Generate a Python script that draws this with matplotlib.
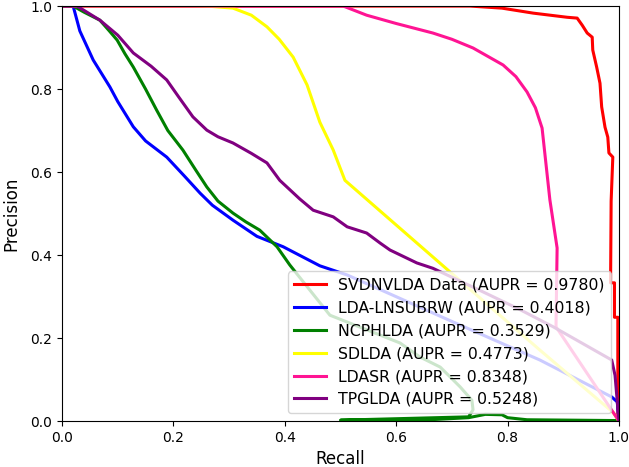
import matplotlib
matplotlib.use('Agg')
import matplotlib.pyplot as plt

# curvas precision-recall
svdnvlda_r = [0.0, 0.733, 0.79, 0.846, 0.907, 0.925, 0.934, 0.943, 0.952, 0.953, 0.96, 0.966,
              0.969, 0.975, 0.98, 0.982, 0.989, 0.986, 0.985, 0.992, 0.992, 0.998, 0.998]
svdnvlda_p = [1.0, 1.0, 0.995, 0.983, 0.973, 0.971, 0.954, 0.935, 0.925, 0.894, 0.853, 0.814,
              0.757, 0.708, 0.684, 0.646, 0.636, 0.53, 0.333, 0.333, 0.25, 0.25, 0.0]

lnsubrw_r = [0.0, 0.02, 0.032, 0.056, 0.086, 0.1, 0.128, 0.15, 0.188, 0.22, 0.248, 0.27,
             0.307, 0.35, 0.397, 0.463, 0.512, 0.601, 0.7, 0.858, 0.987, 0.997, 1.0]
lnsubrw_p = [1.0, 1.0, 0.94, 0.87, 0.805, 0.77, 0.709, 0.675, 0.636, 0.59, 0.549, 0.52,
             0.484, 0.445, 0.42, 0.374, 0.352, 0.299, 0.24, 0.147, 0.058, 0.046, 0.0]

ncphlda_r = [0.0, 0.02, 0.04, 0.068, 0.085, 0.099, 0.113, 0.128, 0.15, 0.17, 0.19, 0.217,
             0.24, 0.26, 0.28, 0.307, 0.33, 0.355, 0.386, 0.409, 0.481, 0.607, 0.643, 0.679,
             0.715, 0.736, 0.738, 0.73, 0.5, 0.66, 0.73, 0.76, 0.79, 0.80, 0.835, 1.0]
ncphlda_p = [1.0, 1.0, 0.985, 0.966, 0.94, 0.918, 0.885, 0.853, 0.8, 0.749, 0.7, 0.653,
             0.605, 0.564, 0.53, 0.501, 0.48, 0.46, 0.42, 0.376, 0.255, 0.188, 0.154, 0.13,
             0.082, 0.05, 0.027, 0.01, 0.002, 0.003, 0.008, 0.016, 0.015, 0.008, 0.003, 0.001]

sdlda_r = [0.0, 0.235, 0.27, 0.307, 0.34, 0.368, 0.39, 0.415, 0.44, 0.463, 0.487, 0.508,
           0.691, 0.858, 0.99, 1.0]
sdlda_p = [1.0, 1.0, 0.999, 0.995, 0.978, 0.95, 0.92, 0.877, 0.81, 0.72, 0.653, 0.58,
           0.366, 0.171, 0.02, 0.0]

ldasr_r = [0.0, 0.505, 0.547, 0.6, 0.666, 0.7, 0.738, 0.792, 0.815, 0.835, 0.85, 0.862,
           0.876, 0.889, 0.887, 1.0]
ldasr_p = [1.0, 1.0, 0.978, 0.958, 0.935, 0.92, 0.899, 0.858, 0.83, 0.793, 0.755, 0.706,
           0.533, 0.417, 0.227, 0.0]

tpglda_r = [0.0, 0.027, 0.068, 0.1, 0.128, 0.16, 0.188, 0.21, 0.235, 0.26, 0.28, 0.307,
            0.34, 0.368, 0.391, 0.427, 0.451, 0.487, 0.512, 0.547, 0.571, 0.589, 0.637,
            0.666, 0.75, 0.82, 0.882, 0.987, 0.993, 1.0]
tpglda_p = [1.0, 1.0, 0.966, 0.93, 0.887, 0.855, 0.822, 0.78, 0.733, 0.701, 0.685, 0.67,
            0.645, 0.622, 0.58, 0.535, 0.508, 0.492, 0.468, 0.453, 0.429, 0.412, 0.381,
            0.368, 0.315, 0.27, 0.227, 0.147, 0.11, 0.0]

curvas = [
    (svdnvlda_r, svdnvlda_p, 'SVDNVLDA Data (AUPR = 0.9780)', 'red'),
    (lnsubrw_r, lnsubrw_p, 'LDA-LNSUBRW (AUPR = 0.4018)', 'blue'),
    (ncphlda_r, ncphlda_p, 'NCPHLDA (AUPR = 0.3529)', 'green'),
    (sdlda_r, sdlda_p, 'SDLDA (AUPR = 0.4773)', 'yellow'),
    (ldasr_r, ldasr_p, 'LDASR (AUPR = 0.8348)', 'deeppink'),
    (tpglda_r, tpglda_p, 'TPGLDA (AUPR = 0.5248)', 'purple'),
]

fig = plt.figure(figsize=(6.29, 4.67), dpi=100)
ax = fig.add_subplot(111)
fig.subplots_adjust(left=0.0986, right=0.984, top=0.987, bottom=0.0985)

for r, p, nome, cor in curvas:
    ax.plot(r, p, color=cor, lw=2.2, label=nome)

ax.set_xlim(0, 1)
ax.set_ylim(0, 1)
ax.set_xlabel('Recall', fontsize=12)
ax.set_ylabel('Precision', fontsize=12, labelpad=7)
ax.legend(loc='lower right', fontsize=11.3, labelspacing=0.5)

fig.savefig('out.png', dpi=100)
